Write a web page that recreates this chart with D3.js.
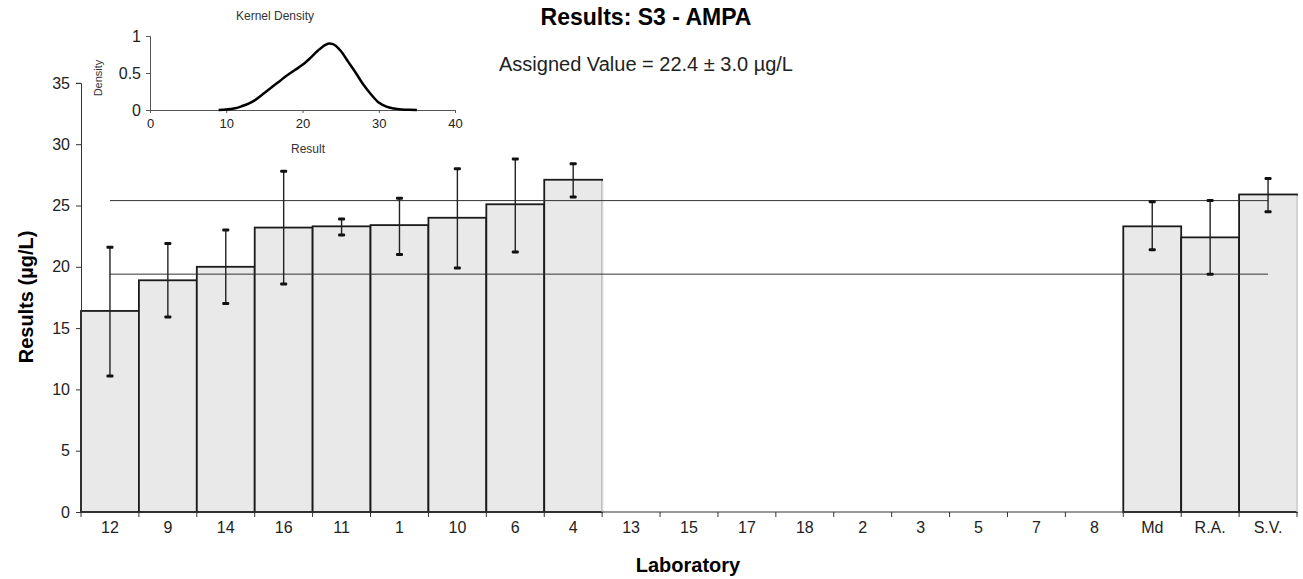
<!DOCTYPE html>
<html>
<head>
<meta charset="utf-8">
<script src="https://cdn.jsdelivr.net/npm/d3@7"></script>
<style>
  body { margin: 0; background: #fff; }
  svg { font-family: "Liberation Sans", Arial, sans-serif; }
  .tick text { fill: #222; }
</style>
</head>
<body>
<div id="chart"></div>
<script>
// laboratory results, in plotting order
var labs = ["12", "9", "14", "16", "11", "1", "10", "6", "4", "13", "15", "17", "18", "2", "3", "5", "7", "8", "Md", "R.A.", "S.V."];
var results = [16.4, 18.9, 20.0, 23.2, 23.3, 23.4, 24.0, 25.1, 27.1, null, null, null, null, null, null, null, null, null, 23.3, 22.4, 25.9];
var errHigh = [21.6, 21.9, 23.0, 27.8, 23.9, 25.6, 28.0, 28.8, 28.4, null, null, null, null, null, null, null, null, null, 25.3, 25.4, 27.2];
var errLow = [11.1, 15.9, 17.0, 18.6, 22.6, 21.0, 19.9, 21.2, 25.7, null, null, null, null, null, null, null, null, null, 21.4, 19.4, 24.5];
var yTicks = [0, 5, 10, 15, 20, 25, 30, 35];

var assigned = 22.4, assignedU = 3.0;

// kernel density inset
var densX = [9, 11, 12, 13, 14, 15, 16, 17, 18, 19, 20, 21, 22, 23, 23.5, 24, 25, 26, 27, 28, 29, 30, 31, 32, 33, 34, 35];
var densY = [0, 0.02, 0.05, 0.09, 0.15, 0.23, 0.31, 0.39, 0.47, 0.54, 0.61, 0.70, 0.80, 0.88, 0.90, 0.89, 0.80, 0.65, 0.50, 0.34, 0.21, 0.10, 0.045, 0.02, 0.008, 0.002, 0];
var densXTicks = [0, 10, 20, 30, 40];
var densYTicks = [0, 0.5, 1];

var W = 1303, H = 579;

var svg = d3.select("#chart").append("svg")
    .attr("width", W)
    .attr("height", H);

var x = d3.scaleBand()
    .domain(labs)
    .range([81, 1297])
    .padding(0);

var y = d3.scaleLinear()
    .domain([0, 35])
    .range([512, 82.9]);

var data = labs.map(function (d, i) {
    return {lab: d, v: results[i], hi: errHigh[i], lo: errLow[i], i: i};
});
var filled = data.filter(function (d) { return d.v != null; });

// bars
var bars = svg.append("g");
bars.selectAll("rect")
    .data(filled)
    .enter().append("rect")
    .attr("x", function (d) { return x(d.lab); })
    .attr("y", function (d) { return y(d.v); })
    .attr("width", x.bandwidth())
    .attr("height", function (d) { return y(0) - y(d.v); })
    .style("fill", "#e9e9e9")
    .style("stroke", "#1a1a1a")
    .style("stroke-width", 1.8);

// right edge of a group has no dark border
bars.selectAll("line.edge")
    .data(filled.filter(function (d) { return d.i === labs.length - 1 || results[d.i + 1] == null; }))
    .enter().append("line")
    .attr("class", "edge")
    .attr("x1", function (d) { return x(d.lab) + x.bandwidth(); })
    .attr("x2", function (d) { return x(d.lab) + x.bandwidth(); })
    .attr("y1", function (d) { return y(d.v) + 1; })
    .attr("y2", y(0))
    .style("stroke", "#d4d4d4")
    .style("stroke-width", 2);

// assigned value +/- uncertainty lines
var xFirst = x(labs[0]) + x.bandwidth() / 2;
var xLast = x(labs[labs.length - 1]) + x.bandwidth() / 2;
svg.append("g").selectAll("line")
    .data([assigned + assignedU, assigned - assignedU])
    .enter().append("line")
    .attr("x1", xFirst)
    .attr("x2", xLast)
    .attr("y1", function (d) { return y(d); })
    .attr("y2", function (d) { return y(d); })
    .style("stroke", "#333")
    .style("stroke-width", 1);

// error bars
var eb = svg.append("g").selectAll("g")
    .data(filled)
    .enter().append("g")
    .attr("transform", function (d) { return "translate(" + (x(d.lab) + x.bandwidth() / 2) + ",0)"; });

eb.append("line")
    .attr("y1", function (d) { return y(d.hi); })
    .attr("y2", function (d) { return y(d.lo); })
    .style("stroke", "#222")
    .style("stroke-width", 1.4);

eb.selectAll("rect")
    .data(function (d) { return [d.hi, d.lo]; })
    .enter().append("rect")
    .attr("x", -3.5)
    .attr("y", function (d) { return y(d) - 1.5; })
    .attr("width", 7)
    .attr("height", 3)
    .attr("rx", 1)
    .style("fill", "#111");

// axes
var yAxis = svg.append("g")
    .attr("transform", "translate(81,0)")
    .call(d3.axisLeft(y).tickValues(yTicks).tickSize(5).tickPadding(6));
yAxis.selectAll("text").style("font-size", "16px");

var xAxis = svg.append("g")
    .attr("transform", "translate(0,512)")
    .call(d3.axisBottom(x).tickSize(0).tickPadding(10));
xAxis.select(".domain").remove();
xAxis.selectAll("text").style("font-size", "16px");

svg.append("line")
    .attr("x1", 81).attr("x2", 1297)
    .attr("y1", y(0)).attr("y2", y(0))
    .style("stroke", "#333");

svg.append("g").selectAll("line")
    .data(labs.concat(["end"]))
    .enter().append("line")
    .attr("x1", function (d) { return d === "end" ? 1297 : x(d); })
    .attr("x2", function (d) { return d === "end" ? 1297 : x(d); })
    .attr("y1", y(0))
    .attr("y2", y(0) + 5)
    .style("stroke", "#333");

yAxis.selectAll("path, line").style("stroke", "#333");

// titles
svg.append("text")
    .attr("x", 646).attr("y", 25)
    .attr("text-anchor", "middle")
    .style("font-size", "23px")
    .style("font-weight", "bold")
    .text("Results: S3 - AMPA");

svg.append("text")
    .attr("x", 646).attr("y", 71)
    .attr("text-anchor", "middle")
    .style("font-size", "20px")
    .style("fill", "#222")
    .text("Assigned Value = 22.4 \u00b1 3.0 \u00b5g/L");

svg.append("text")
    .attr("transform", "translate(33,297) rotate(-90)")
    .attr("text-anchor", "middle")
    .style("font-size", "20px")
    .style("font-weight", "bold")
    .text("Results (\u00b5g/L)");

svg.append("text")
    .attr("x", 688).attr("y", 572)
    .attr("text-anchor", "middle")
    .style("font-size", "20px")
    .style("font-weight", "bold")
    .text("Laboratory");

// inset: kernel density
var dx = d3.scaleLinear().domain([0, 40]).range([150, 455]);
var dy = d3.scaleLinear().domain([0, 1]).range([110, 36]);

var inset = svg.append("g");

inset.append("g")
    .attr("transform", "translate(150,0)")
    .call(d3.axisLeft(dy).tickValues(densYTicks).tickFormat(d3.format("")).tickSize(4).tickPadding(5))
    .selectAll("text").style("font-size", "16px");

var dxAxis = inset.append("g")
    .attr("transform", "translate(0,110)")
    .call(d3.axisBottom(dx).tickValues(densXTicks).tickSize(3).tickPadding(6));
dxAxis.selectAll("text").style("font-size", "13px");
inset.selectAll("path, line").style("stroke", "#555");

var line = d3.line()
    .x(function (d, i) { return dx(densX[i]); })
    .y(function (d) { return dy(d); })
    .curve(d3.curveMonotoneX);

inset.append("path")
    .datum(densY)
    .attr("d", line)
    .style("fill", "none")
    .style("stroke", "#000")
    .style("stroke-width", 2.5);

inset.append("text")
    .attr("x", 275).attr("y", 20)
    .attr("text-anchor", "middle")
    .style("font-size", "12px")
    .style("fill", "#333")
    .text("Kernel Density");

inset.append("text")
    .attr("x", 308).attr("y", 153)
    .attr("text-anchor", "middle")
    .style("font-size", "12px")
    .style("fill", "#333")
    .text("Result");

inset.append("text")
    .attr("transform", "translate(102,78) rotate(-90)")
    .attr("text-anchor", "middle")
    .style("font-size", "11px")
    .style("fill", "#333")
    .text("Density");
</script>
</body>
</html>
